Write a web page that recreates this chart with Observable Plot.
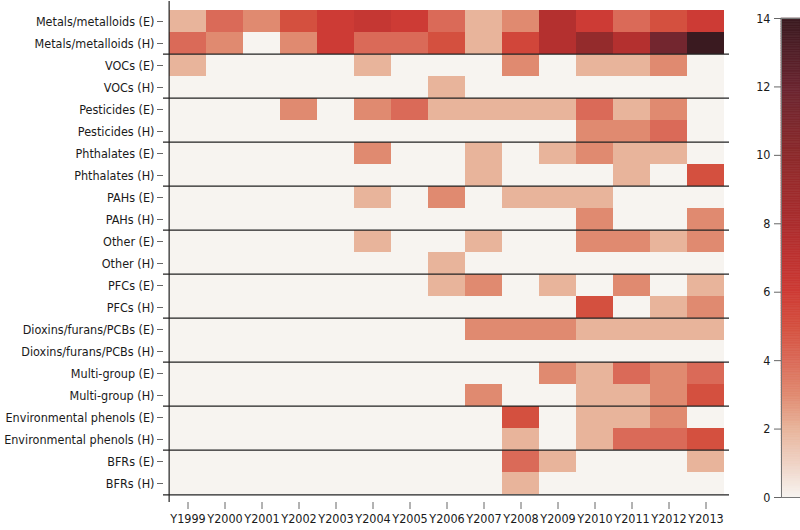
<!DOCTYPE html>
<html><head><meta charset="utf-8">
<script src="https://cdn.jsdelivr.net/npm/d3@7"></script>
<script src="https://cdn.jsdelivr.net/npm/@observablehq/plot@0.6"></script>
<style>
body{margin:0;background:#fff;}
#wrap{position:relative;width:800px;height:530px;overflow:hidden;}
#main{position:absolute;left:0;top:0;}
#bar{position:absolute;left:740px;top:0;}
</style></head><body><div id="wrap"><div id="main"></div><div id="bar"></div></div>
<script>
const years = ["Y1999","Y2000","Y2001","Y2002","Y2003","Y2004","Y2005","Y2006","Y2007","Y2008","Y2009","Y2010","Y2011","Y2012","Y2013"];
const rows = [
  "Metals/metalloids (E)","Metals/metalloids (H)",
  "VOCs (E)","VOCs (H)",
  "Pesticides (E)","Pesticides (H)",
  "Phthalates (E)","Phthalates (H)",
  "PAHs (E)","PAHs (H)",
  "Other (E)","Other (H)",
  "PFCs (E)","PFCs (H)",
  "Dioxins/furans/PCBs (E)","Dioxins/furans/PCBs (H)",
  "Multi-group (E)","Multi-group (H)",
  "Environmental phenols (E)","Environmental phenols (H)",
  "BFRs (E)","BFRs (H)"
];
const counts = [
  [2,4,3,5,6,6.5,6,4,2,3,7.5,6,4,5,6],
  [4,3,0,3,6,4,4,5,2,5.5,7.5,9.5,7.5,11.5,14],
  [2,0,0,0,0,2,0,0,0,3,0,2,2,3,0],
  [0,0,0,0,0,0,0,2,0,0,0,0,0,0,0],
  [0,0,0,3,0,3,4,2,2,2,2,4,2,3,0],
  [0,0,0,0,0,0,0,0,0,0,0,3,3,4,0],
  [0,0,0,0,0,3,0,0,2,0,2,3,2,2,0],
  [0,0,0,0,0,0,0,0,2,0,0,0,2,0,5],
  [0,0,0,0,0,2,0,3,0,2,2,2,0,0,0],
  [0,0,0,0,0,0,0,0,0,0,0,3,0,0,3],
  [0,0,0,0,0,2,0,0,2,0,0,3,3,2,3],
  [0,0,0,0,0,0,0,2,0,0,0,0,0,0,0],
  [0,0,0,0,0,0,0,2,3,0,2,0,3,0,2],
  [0,0,0,0,0,0,0,0,0,0,0,5,0,2,3],
  [0,0,0,0,0,0,0,0,3,3,3,2,2,2,2],
  [0,0,0,0,0,0,0,0,0,0,0,0,0,0,0],
  [0,0,0,0,0,0,0,0,0,0,3,2,4,3,4],
  [0,0,0,0,0,0,0,0,3,0,0,2,2,3,5],
  [0,0,0,0,0,0,0,0,0,5,0,2,2,3,0],
  [0,0,0,0,0,0,0,0,0,2,0,2,4,4,5],
  [0,0,0,0,0,0,0,0,0,4,2,0,0,0,2],
  [0,0,0,0,0,0,0,0,0,2,0,0,0,0,0]
];
const colorDomain = [0,1,2,3,4,5,6,7,8,10,12,14];
const colorRange = ["#f7f4f0","#efd2c4","#e8b49b","#e08a70","#da6a58","#d4503f","#cd3b35","#bd3230","#ab2d2e","#8c2a2b","#6a2530","#3a1a20"];
const legendTicks = [0,2,4,6,8,10,12,14];

const data = rows.flatMap((r,i)=>years.map((y,j)=>({row:r,year:y,value:counts[i][j]})));
const groupStarts = rows.filter((r,i)=>i>0 && i%2===0);

const H=530, mt=1, mb=28, ml=163, mr=1, W=730;
const bwY = (H-mt-mb)/rows.length;
const bwX = (W-ml-mr)/years.length;
const font = '"DejaVu Sans Condensed","Liberation Sans Narrow",sans-serif';
const fs = 12.5;
const colorOpts = {type:"linear", domain: colorDomain, range: colorRange, interpolate:"rgb"};

const main = Plot.plot({
  width: W, height: H, marginTop: mt, marginBottom: mb, marginLeft: ml, marginRight: mr,
  style: {fontFamily: font, fontSize: fs + "px", color:"#1a1a1a", background:"transparent"},
  x: {domain: years, padding:0, label:null},
  y: {domain: rows, padding:0, label:null},
  color: colorOpts,
  marks: [
    Plot.cell(data, {x:"year", y:"row", fill:"value"}),
    Plot.ruleY(groupStarts, {y: d=>d, dy: -bwY/2, stroke:"#222", strokeWidth:1.2}),
    Plot.ruleX([years[0]], {x: d=>d, dx: -bwX/2, stroke:"#222", strokeWidth:1.2}),
    Plot.ruleY([rows[rows.length-1]], {y: d=>d, dy: bwY/2, stroke:"#222", strokeWidth:1.2}),
    Plot.axisY({tickSize:6, tickPadding:3, stroke:"#666", fill:"#1a1a1a", fontSize:fs, label:null}),
    Plot.axisX({tickSize:7, tickPadding:5, stroke:"#666", fill:"#1a1a1a", fontSize:fs, label:null})
  ]
});
document.getElementById("main").append(main);

const bands = d3.range(0, 14, 0.05);
const bar = Plot.plot({
  width: 60, height: H, marginTop: 18, marginBottom: 33, marginLeft: 41, marginRight: 0,
  style: {fontFamily: font, fontSize: fs + "px", color:"#1a1a1a", background:"transparent"},
  x: {domain:[0,1], axis:null},
  y: {domain:[0,14], label:null},
  color: colorOpts,
  marks: [
    Plot.rect(bands, {x1:0, x2:1, y1:d=>d, y2:d=>d+0.05, fill:d=>d+0.025, stroke:d=>d+0.025, strokeWidth:0.6}),
    Plot.frame({stroke:"#777"}),
    Plot.axisY(legendTicks, {tickSize:7, tickPadding:4, stroke:"#666", fill:"#1a1a1a", fontSize:fs, label:null})
  ]
});
document.getElementById("bar").append(bar);
</script></body></html>
